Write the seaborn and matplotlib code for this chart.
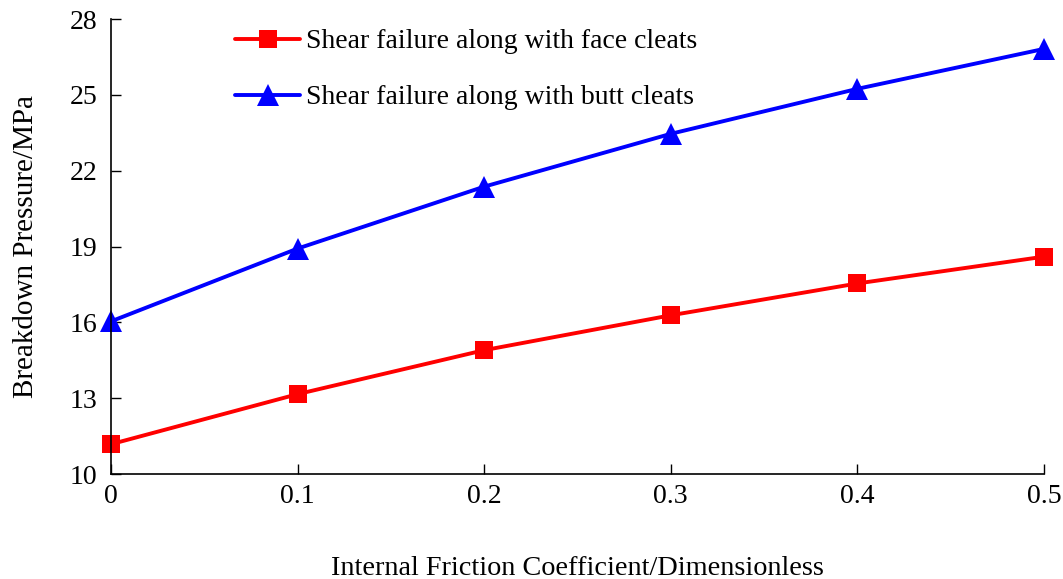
import matplotlib.pyplot as plt
import seaborn as sns

# data
friction = [0, 0.1, 0.2, 0.3, 0.4, 0.5]
face_cleats = [11.18, 13.16, 14.90, 16.28, 17.54, 18.60]
butt_cleats = [16.04, 18.92, 21.37, 23.46, 25.24, 26.82]
x_ticklabels = ['0', '0.1', '0.2', '0.3', '0.4', '0.5']
y_ticks = [10, 13, 16, 19, 22, 25, 28]

sns.set_style('ticks')
plt.rcParams['font.family'] = ['Liberation Serif', 'DejaVu Serif']
plt.rcParams['text.color'] = 'black'
plt.rcParams['axes.labelcolor'] = 'black'
plt.rcParams['xtick.color'] = 'black'
plt.rcParams['ytick.color'] = 'black'

fig = plt.figure(figsize=(10.63, 5.79), dpi=100)
ax = fig.add_axes([0.1044, 0.1813, 0.8776, 0.7857])

sns.lineplot(x=friction, y=face_cleats, color='#ff0000', marker='s', markersize=13.5,
             markeredgewidth=0, linewidth=2.8, clip_on=False,
             label='Shear failure along with face cleats', ax=ax)
sns.lineplot(x=friction, y=butt_cleats, color='#0000ff', marker='^', markersize=16,
             markeredgewidth=0, linewidth=2.8, clip_on=False,
             label='Shear failure along with butt cleats', ax=ax)

ax.set_xlim(0, 0.5)
ax.set_ylim(10, 28)
ax.set_xticks(friction)
ax.set_xticklabels(x_ticklabels)
ax.set_yticks(y_ticks)
ax.tick_params(direction='in', length=7, width=1, labelsize=20)
ax.tick_params(axis='x', pad=7)
ax.tick_params(axis='y', pad=10)
sns.despine(ax=ax)
for s in ['left', 'bottom']:
    ax.spines[s].set_color('black')
    ax.spines[s].set_linewidth(1.2)

ax.set_xlabel('Internal Friction Coefficient/Dimensionless', fontsize=20.3, labelpad=34)
ax.set_ylabel('Breakdown Pressure/MPa', fontsize=21, labelpad=22)

ax.legend(loc='upper left', bbox_to_anchor=(0.221, 0.95), bbox_transform=fig.transFigure,
          frameon=False, fontsize=20, handlelength=2.35, handletextpad=0.2,
          labelspacing=1.1, borderpad=0, borderaxespad=0)

fig.savefig('out.png', dpi=100)
